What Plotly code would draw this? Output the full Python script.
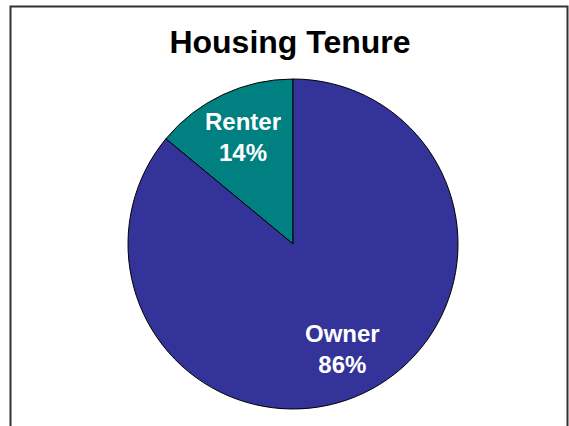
import plotly.graph_objects as go

labels = ["Renter", "Owner"]
values = [14, 86]
colors = ["#008080", "#333399"]

W, H = 569, 426
cx, cy, r = 293, 244, 165
# label block centres (pixels)
label_pos = {"Renter": (243, 137), "Owner": (342, 349)}

first_angle = values[0] / sum(values) * 360

fig = go.Figure(go.Pie(
    labels=labels,
    values=values,
    sort=False,
    direction="clockwise",
    rotation=-first_angle,
    marker=dict(colors=colors, line=dict(color="black", width=1)),
    textinfo="none",
    showlegend=False,
    hoverinfo="skip",
    domain=dict(x=[(cx - r) / W, (cx + r) / W], y=[1 - (cy + r) / H, 1 - (cy - r) / H]),
))

annotations = []
for lab, val in zip(labels, values):
    px, py = label_pos[lab]
    annotations.append(dict(
        text=f"{lab}<br>{val}%", x=px / W, y=1 - py / H, xref="paper", yref="paper",
        xanchor="center", yanchor="middle", showarrow=False, align="center",
        font=dict(family="Liberation Sans, Arial", size=24, color="white", weight="bold"),
    ))

fig.update_layout(
    width=W, height=H,
    margin=dict(l=0, r=0, t=0, b=0),
    paper_bgcolor="white",
    plot_bgcolor="white",
    title=dict(text="<b>Housing Tenure</b>", x=290 / W, xanchor="center",
               y=1 - 42 / H, yanchor="middle",
               font=dict(family="Liberation Sans, Arial", size=32, color="black")),
    annotations=annotations,
    shapes=[dict(type="rect", xref="paper", yref="paper",
                 x0=10.5 / W, x1=567.5 / W, y0=-0.1, y1=1 - 6.5 / H,
                 line=dict(color="#333333", width=2), fillcolor="rgba(0,0,0,0)", layer="below")],
)

fig.write_html("out.html", config={"displayModeBar": False},
               post_script="document.body.style.margin='0';document.body.style.overflow='hidden';")
